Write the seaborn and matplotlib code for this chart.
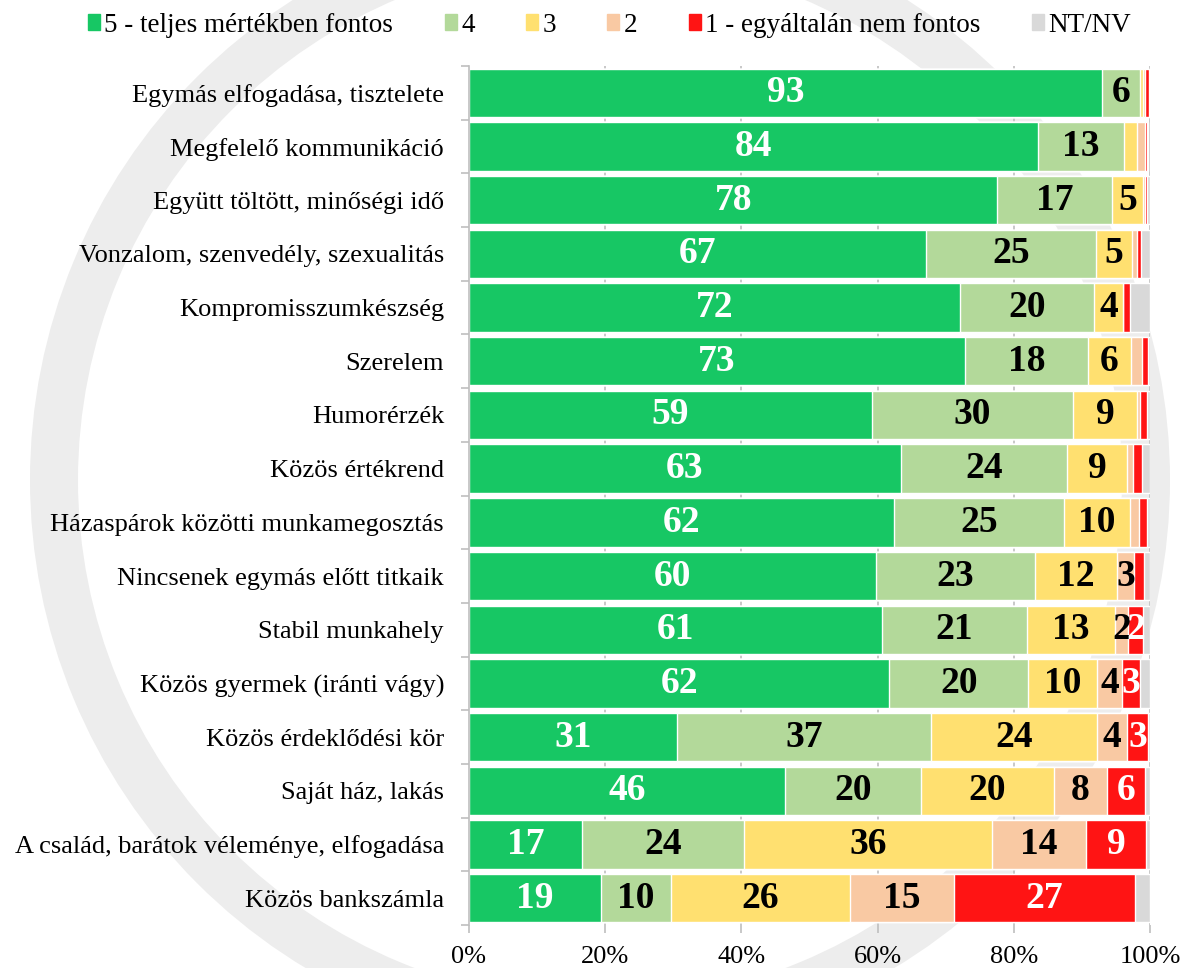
import numpy as np
import pandas as pd
import matplotlib
matplotlib.use("Agg")
import matplotlib.pyplot as plt
from matplotlib.patches import Wedge
import seaborn as sns

categories = [
    "Egymás elfogadása, tisztelete",
    "Megfelelő kommunikáció",
    "Együtt töltött, minőségi idő",
    "Vonzalom, szenvedély, szexualitás",
    "Kompromisszumkészség",
    "Szerelem",
    "Humorérzék",
    "Közös értékrend",
    "Házaspárok közötti munkamegosztás",
    "Nincsenek egymás előtt titkaik",
    "Stabil munkahely",
    "Közös gyermek (iránti vágy)",
    "Közös érdeklődési kör",
    "Saját ház, lakás",
    "A család, barátok véleménye, elfogadása",
    "Közös bankszámla",
]
series_names = ["5 - teljes mértékben fontos", "4", "3", "2",
                "1 - egyáltalán nem fontos", "NT/NV"]

s5 = [92.9, 83.6, 77.6, 67.1, 72.1, 72.8, 59.2, 63.4, 62.4, 59.8, 60.6, 61.7, 30.6, 46.4, 16.6, 19.4]
s4 = [5.7, 12.6, 16.8, 25.0, 19.7, 18.1, 29.5, 24.4, 25.0, 23.3, 21.4, 20.4, 37.2, 19.9, 23.8, 10.3]
s3 = [0.4, 1.9, 4.6, 5.3, 4.2, 6.3, 9.4, 8.8, 9.6, 12.0, 12.8, 10.1, 24.4, 19.6, 36.4, 26.2]
s2 = [0.3, 1.2, 0.3, 0.7, 0.0, 1.6, 0.5, 0.9, 1.4, 2.6, 2.0, 3.7, 4.4, 7.8, 13.8, 15.3]
s1 = [0.6, 0.3, 0.3, 0.6, 1.1, 0.9, 1.0, 1.3, 1.2, 1.4, 2.2, 2.6, 3.1, 5.6, 8.8, 26.6]
snt = [0.1, 0.1, 0.4, 1.3, 2.9, 0.3, 0.4, 1.2, 0.4, 0.9, 1.0, 1.5, 0.3, 0.7, 0.6, 2.2]

colors = ["#17C764", "#B3D99A", "#FFE070", "#F9C9A3", "#FF1414", "#D9D9D9"]
text_colors = ["white", "black", "black", "black", "white", None]

sns.set_theme(style="white")
plt.rcParams["font.family"] = ["Liberation Serif", "DejaVu Serif"]

data = np.array([s5, s4, s3, s2, s1, snt])
cum = np.cumsum(data, axis=0)

fig = plt.figure(figsize=(11.81, 9.68), dpi=100)
fig.patch.set_facecolor("white")

# faint watermark ring behind the chart
fig.patches.append(Wedge((600, 968 - 480), 570, 0, 360, width=48,
                         transform=None, facecolor="#EDEDED", edgecolor="none", zorder=-5))

ax = fig.add_axes([469 / 1181, 1 - 925 / 968, (1150 - 469) / 1181, (925 - 66) / 968])
ax.set_facecolor("none")
ax.set_zorder(2)

for k in range(5, -1, -1):
    df = pd.DataFrame({"cat": categories, "val": cum[k]})
    sns.barplot(data=df, x="val", y="cat", orient="h", color=colors[k],
                saturation=1, width=0.9, ax=ax, order=categories, zorder=3)

for k in range(5):
    for i in range(len(categories)):
        v = data[k, i]
        if v >= 2.0:
            xc = cum[k, i] - v / 2
            ax.text(xc, i, f"{int(v + 0.5)}", ha="center", va="center",
                    color=text_colors[k], fontsize=27, fontweight="bold", zorder=5)

ax.set_xlim(0, 100)
ax.set_ylim(15.5, -0.5)
ax.set_xticks([0, 20, 40, 60, 80, 100])
ax.set_xticklabels(["0%", "20%", "40%", "60%", "80%", "100%"])
ax.tick_params(axis="x", labelsize=19, pad=9, length=6, width=1.2,
               color="#BFBFBF", direction="out", bottom=True)
ax.tick_params(axis="y", which="major", labelsize=19, pad=18, length=0)
ax.set_yticks(np.arange(-0.5, 16, 1.0), minor=True)
ax.tick_params(axis="y", which="minor", length=6, width=1.2, color="#BFBFBF",
               direction="out", left=True)
for lbl in ax.get_yticklabels() + ax.get_xticklabels():
    lbl.set_color("black")
ax.set_xlabel("")
ax.set_ylabel("")
for x in [20, 40, 60, 80, 100]:
    ax.axvline(x, color="#BFBFBF", lw=1.2, zorder=1)
for sp in ["top", "right", "bottom"]:
    ax.spines[sp].set_visible(False)
ax.spines["left"].set_color("#BFBFBF")
ax.spines["left"].set_linewidth(1.2)
ax.spines["left"].set_zorder(6)

handles = [plt.Rectangle((0, 0), 1, 1, color=c) for c in colors]
fig.legend(handles, series_names, loc="center", bbox_to_anchor=(0.516, 1 - 25 / 968),
           ncol=6, frameon=False, fontsize=19.5, handlelength=0.45, handleheight=0.5,
           handletextpad=0.15, columnspacing=1.9, labelcolor="black")

fig.savefig("out.png", dpi=100)
